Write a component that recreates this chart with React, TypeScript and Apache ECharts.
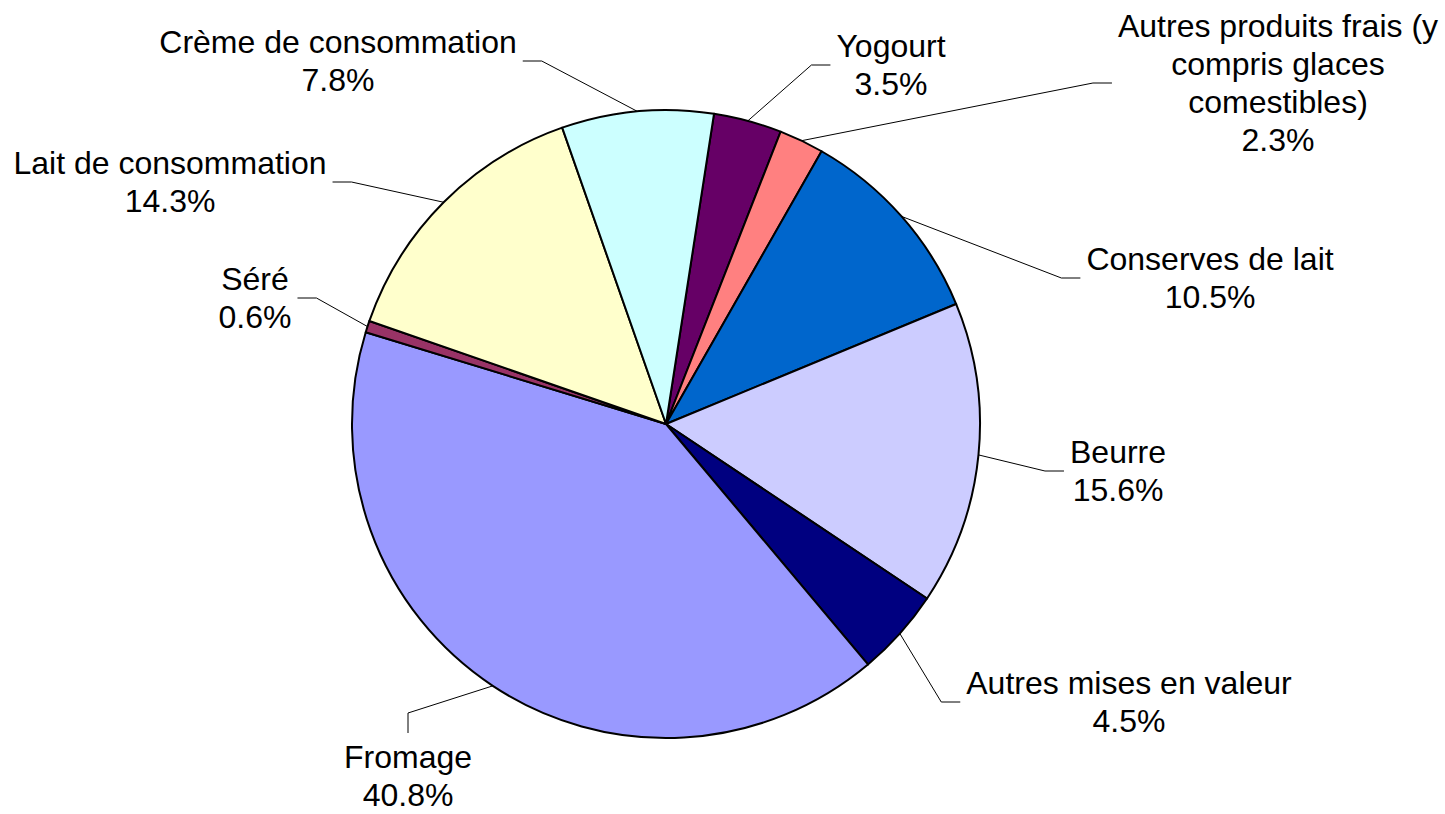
import React, { useEffect, useRef } from "react";
import * as echarts from "echarts";

// ---- Data (clockwise, starting just right of 12 o'clock) ----
const categories: string[] = [
  "Yogourt",
  "Autres produits frais (y\ncompris glaces\ncomestibles)",
  "Conserves de lait",
  "Beurre",
  "Autres mises en valeur",
  "Fromage",
  "Séré",
  "Lait de consommation",
  "Crème de consommation",
];
const shares: number[] = [3.5, 2.3, 10.5, 15.6, 4.5, 40.8, 0.6, 14.3, 7.8];
const sliceColors: string[] = [
  "#660066",
  "#FF8080",
  "#0066CC",
  "#CCCCFF",
  "#000080",
  "#9999FF",
  "#993366",
  "#FFFFCC",
  "#CCFFFF",
];

// ---- Layout (label block centres and which side the leader line meets) ----
const CENTER: [number, number] = [666, 424];
const RADIUS = 314;
const START_ANGLE = 81.2;
const labelPlacement: { x: number; y: number; side: "left" | "right" | "top" }[] = [
  { x: 891, y: 65, side: "right" },
  { x: 1278, y: 83, side: "right" },
  { x: 1210, y: 278, side: "right" },
  { x: 1118, y: 471, side: "right" },
  { x: 1129, y: 702, side: "right" },
  { x: 408, y: 776, side: "top" },
  { x: 255, y: 298, side: "left" },
  { x: 170, y: 182, side: "left" },
  { x: 338, y: 61, side: "left" },
];

const FONT = "'Liberation Sans', Arial, Helvetica, sans-serif";

export default function App() {
  const ref = useRef<HTMLDivElement>(null);

  useEffect(() => {
    if (!ref.current) return;
    const chart = echarts.init(ref.current, undefined, { renderer: "svg" });
    const total = shares.reduce((a, b) => a + b, 0);

    const fallbackAnchor = (idx: number): number[] => {
      let cum = 0;
      for (let i = 0; i < idx; i++) cum += shares[i];
      cum += shares[idx] / 2;
      const deg = 90 - START_ANGLE + (cum / total) * 360; // clockwise from north
      const rad = (deg * Math.PI) / 180;
      return [CENTER[0] + RADIUS * Math.sin(rad), CENTER[1] - RADIUS * Math.cos(rad)];
    };

    chart.setOption({
      animation: false,
      backgroundColor: "#ffffff",
      series: [
        {
          type: "pie",
          center: CENTER,
          radius: RADIUS,
          startAngle: START_ANGLE,
          clockwise: true,
          avoidLabelOverlap: false,
          silent: true,
          emphasis: { disabled: true },
          itemStyle: { borderColor: "#000000", borderWidth: 2 },
          label: {
            show: true,
            position: "outside",
            color: "#000000",
            fontSize: 32,
            lineHeight: 38,
            fontFamily: FONT,
            align: "center",
            overflow: "none",
            formatter: (p: any) => `${p.name}\n${Number(p.value).toFixed(1)}%`,
          },
          labelLine: {
            show: true,
            length: 10,
            length2: 10,
            smooth: false,
            lineStyle: { color: "#000000", width: 1 },
          },
          labelLayout: (params: any) => {
            const idx = params.dataIndex;
            const p = labelPlacement[idx];
            const w = params.labelRect.width;
            const h = params.labelRect.height;
            const anchor =
              params.labelLinePoints && params.labelLinePoints[0]
                ? params.labelLinePoints[0]
                : fallbackAnchor(idx);
            let end: number[];
            let elbow: number[];
            if (p.side === "right") {
              end = [p.x - w / 2 - 6, p.y];
              elbow = [end[0] - 19, p.y];
            } else if (p.side === "left") {
              end = [p.x + w / 2 + 6, p.y];
              elbow = [end[0] + 19, p.y];
            } else {
              end = [p.x, p.y - h / 2 - 5];
              elbow = [p.x, end[1] - 20];
            }
            return {
              x: p.x,
              y: p.y,
              align: "center",
              verticalAlign: "middle",
              labelLinePoints: [anchor, elbow, end],
            };
          },
          data: categories.map((name, i) => ({
            name,
            value: shares[i],
            itemStyle: { color: sliceColors[i] },
          })),
        },
      ],
    });

    return () => chart.dispose();
  }, []);

  return (
    <div
      ref={ref}
      style={{ position: "absolute", left: 0, top: 0, width: 1445, height: 814 }}
    />
  );
}
